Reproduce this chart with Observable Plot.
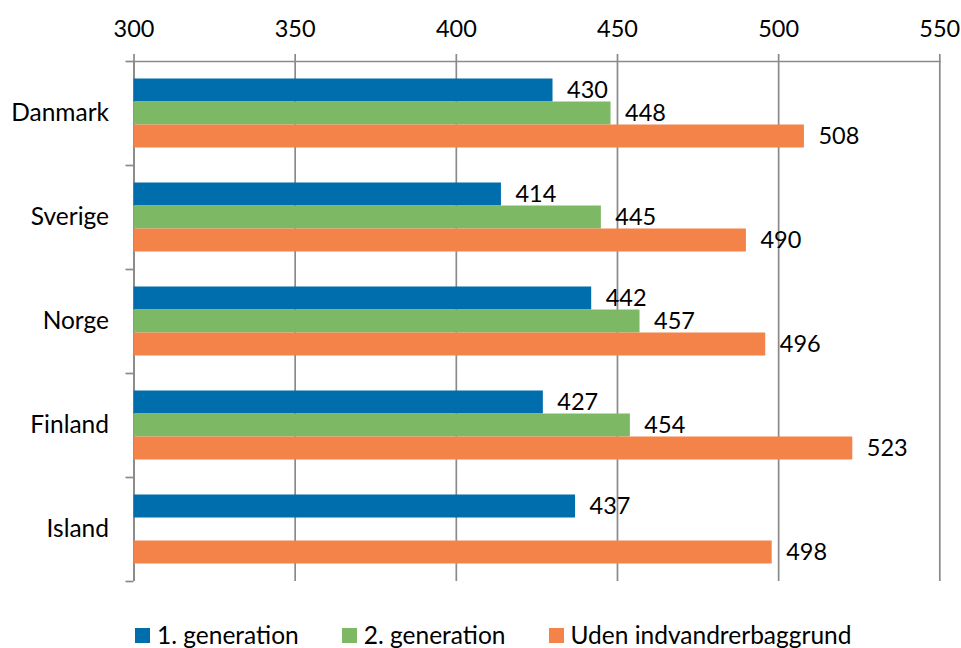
<!DOCTYPE html>
<html>
<head>
<meta charset="utf-8">
<script src="https://cdn.jsdelivr.net/npm/d3@7"></script>
<script src="https://cdn.jsdelivr.net/npm/@observablehq/plot@0.6"></script>
<style>
  html, body { margin: 0; padding: 0; background: #fff; }
  body { width: 961px; height: 648px; overflow: hidden; font-family: Lato, "Open Sans", sans-serif; }
  #legend { display: flex; gap: 43px; padding-left: 135px; margin-top: 22px; font-size: 24.5px; line-height: 26px; color: #000; }
  #legend .item { display: flex; align-items: center; }
  #legend .sw { width: 15px; height: 15px; margin-right: 7px; display: inline-block; }
</style>
</head>
<body>
<div id="chart"></div>
<div id="legend"></div>
<script>
const countries = ["Danmark", "Sverige", "Norge", "Finland", "Island"];
const gen1 = [430, 414, 442, 427, 437];
const gen2 = [448, 445, 457, 454, null];
const native = [508, 490, 496, 523, 498];
const seriesNames = ["1. generation", "2. generation", "Uden indvandrerbaggrund"];
const seriesColors = ["#006EAD", "#7DB964", "#F38349"];
const xTicks = [300, 350, 400, 450, 500, 550];

const seriesValues = [gen1, gen2, native];
const rows = [];
countries.forEach((c, i) => {
  seriesValues.forEach((vals, s) => {
    if (vals[i] != null) rows.push({country: c, series: seriesNames[s], value: vals[i]});
  });
});

const gridColor = "#8a8a8a";
const numSize = 23.5;
const catSize = 24.5;
// inset layout per series within each 104px country band
const insets = [
  {top: 17.5, bottom: 63.5, dy: -23},
  {top: 40.5, bottom: 40.5, dy: 0},
  {top: 63.5, bottom: 17.5, dy: 23}
];
const half = 52;

const marks = [
  Plot.gridX(xTicks, {stroke: gridColor, strokeOpacity: 1, strokeWidth: 1.7}),
  Plot.axisX(xTicks, {anchor: "top", tickSize: 8, tickPadding: 17, stroke: gridColor, strokeWidth: 1.7, fontSize: numSize, fill: "#000", label: null}),
  Plot.frame({anchor: "top", stroke: gridColor, strokeWidth: 1.7}),
  Plot.ruleX([300], {stroke: gridColor, strokeWidth: 1.7}),
  Plot.axisY({tickSize: 8, dy: -half, text: null, stroke: gridColor, strokeWidth: 1.7, label: null}),
  Plot.axisY([countries[countries.length - 1]], {tickSize: 8, dy: half, text: null, stroke: gridColor, strokeWidth: 1.7, label: null}),
  Plot.axisY({tickSize: 0, tickPadding: 25, fontSize: catSize, fill: "#000", label: null})
];

seriesNames.forEach((name, s) => {
  const d = rows.filter(r => r.series === name);
  marks.push(Plot.barX(d, {
    y: "country", x1: 300, x2: "value", fill: seriesColors[s],
    insetTop: insets[s].top, insetBottom: insets[s].bottom
  }));
  marks.push(Plot.text(d, {
    y: "country", x: "value", text: d => String(d.value), dy: insets[s].dy, dx: 14,
    textAnchor: "start", fontSize: numSize, fill: "#000"
  }));
});

const chart = Plot.plot({
  width: 961,
  height: 600,
  marginTop: 61,
  marginLeft: 133.5,
  marginRight: 21.7,
  marginBottom: 19,
  style: {fontFamily: "Lato, 'Open Sans', sans-serif", background: "#fff", color: "#000"},
  x: {domain: [300, 550], axis: null},
  y: {domain: countries, padding: 0, axis: null},
  marks
});
document.getElementById("chart").appendChild(chart);

const legend = document.getElementById("legend");
seriesNames.forEach((name, s) => {
  const item = document.createElement("div");
  item.className = "item";
  const sw = document.createElement("span");
  sw.className = "sw";
  sw.style.background = seriesColors[s];
  const label = document.createElement("span");
  label.textContent = name;
  item.appendChild(sw);
  item.appendChild(label);
  legend.appendChild(item);
});
</script>
</body>
</html>
